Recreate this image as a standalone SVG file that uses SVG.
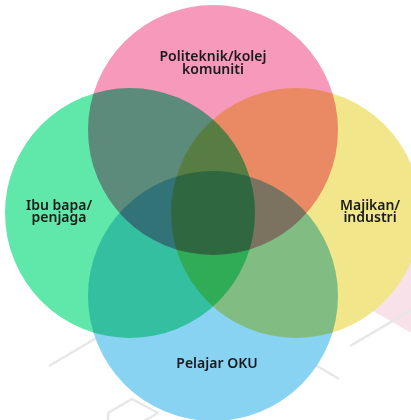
<svg xmlns="http://www.w3.org/2000/svg" width="411" height="420" viewBox="0 0 411 420">
  <style>
    .deco { fill: none; stroke: #e7e7e7; stroke-width: 2.5; stroke-linecap: butt; }
    .c { mix-blend-mode: multiply; }
    .lbl { font-family: "Noto Sans", "Liberation Sans", sans-serif; font-size: 14px; font-weight: 600; fill: #1a1a1a; text-anchor: middle; }
  </style>
  <rect width="411" height="420" fill="#ffffff"/>
  <g id="background">
    <polygon points="373,311 420,338 420,180 373,200" fill="#f8e1e8"/>
    <line class="deco" x1="350" y1="346" x2="420" y2="305"/>
    <line class="deco" x1="260" y1="332" x2="339" y2="379"/>
    <line class="deco" x1="49" y1="366" x2="120" y2="324"/>
    <polyline class="deco" points="108,421 108,413 132,399 158,413"/>
    <line class="deco" x1="158" y1="413" x2="144" y2="421"/>
  </g>
  <g id="circles" style="isolation:isolate">
    <g id="node-politeknik"><circle class="c" cx="213" cy="130" r="125" fill="#f799bb"/></g>
    <g id="node-ibubapa"><circle class="c" cx="130" cy="213" r="125" fill="#5fe8a9"/></g>
    <g id="node-majikan"><circle class="c" cx="296" cy="213" r="125" fill="#f1e68a"/></g>
    <g id="node-pelajar"><circle class="c" cx="213" cy="296" r="125" fill="#88d2f2"/></g>
  </g>
  <g id="labels">
    <text class="lbl" x="213" y="61">Politeknik/kolej<tspan x="213" y="74">komuniti</tspan></text>
    <text class="lbl" x="59" y="210">Ibu bapa/<tspan x="59" y="222">penjaga</tspan></text>
    <text class="lbl" x="370" y="210">Majikan/<tspan x="370" y="222">industri</tspan></text>
    <text class="lbl" x="217" y="368">Pelajar OKU</text>
  </g>
</svg>
